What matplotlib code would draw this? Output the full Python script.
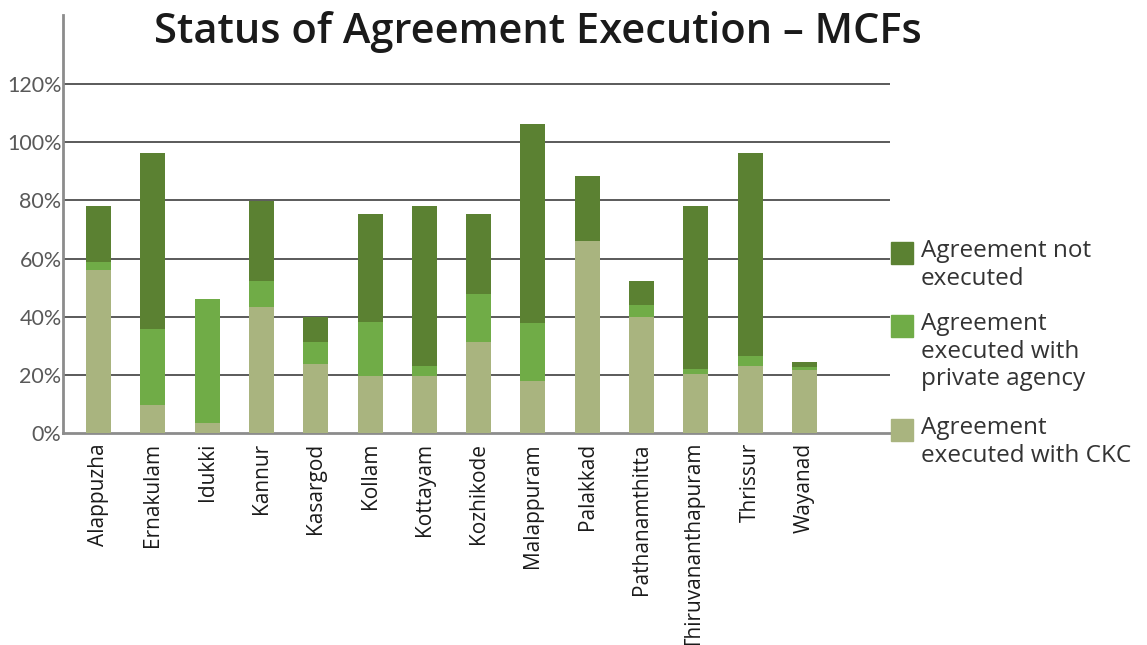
import matplotlib.pyplot as plt
from matplotlib.patches import Rectangle
import numpy as np

districts = ["Alappuzha", "Ernakulam", "Idukki", "Kannur", "Kasargod", "Kollam",
             "Kottayam", "Kozhikode", "Malappuram", "Palakkad", "Pathanamthitta",
             "Thiruvananthapuram", "Thrissur", "Wayanad"]
# shares in %
ckc = [56.1, 9.7, 3.5, 43.4, 23.8, 19.7, 19.7, 31.4, 18.0, 66.1, 40.0, 20.4, 23.1, 21.8]
private = [2.8, 26.2, 42.7, 8.9, 7.6, 18.6, 3.4, 16.5, 19.9, 0.0, 4.1, 1.7, 3.5, 1.0]
not_exec = [19.2, 60.4, 0.0, 27.5, 8.6, 37.1, 55.0, 27.5, 68.4, 22.3, 8.2, 56.0, 69.7, 1.7]
yticks = [0, 20, 40, 60, 80, 100, 120]
legend_labels = ["Agreement not\nexecuted",
                 "Agreement\nexecuted with\nprivate agency",
                 "Agreement\nexecuted with CKC"]

c_not = '#5b8132'
c_priv = '#70ac47'
c_ckc = '#a9b47f'
wide = ['Open Sans', 'DejaVu Sans']

fig = plt.figure(figsize=(11.47, 6.45), dpi=100)
ax = fig.add_axes([63/1147, 1 - 433.3/645, (890-63)/1147, (433.3-15)/645])

x = np.arange(len(districts))
ckc_a = np.array(ckc)
priv_a = np.array(private)
w = 0.46
ax.bar(x, ckc_a, w, color=c_ckc, zorder=3)
ax.bar(x, priv_a, w, bottom=ckc_a, color=c_priv, zorder=3)
ax.bar(x, not_exec, w, bottom=ckc_a + priv_a, color=c_not, zorder=3)

ax.set_xlim(-0.654, 14.575)
ax.set_ylim(0, 143.7)
ax.set_yticks(yticks)
ax.set_yticklabels([f"{v}%" for v in yticks], family=['Lato', 'DejaVu Sans'],
                   fontsize=15.5, color='#595959')
ax.set_xticks(x)
ax.set_xticklabels(districts, rotation=90, family=wide,
                   fontsize=15, color='#1a1a1a')
ax.tick_params(axis='y', length=0, pad=1)
ax.tick_params(axis='x', length=0, pad=7)
for v in yticks[1:]:
    ax.axhline(v, color='#4d4d4d', lw=1.3, zorder=1)

for s in ['top', 'right']:
    ax.spines[s].set_visible(False)
ax.spines['left'].set_color('#8c8c8c')
ax.spines['left'].set_linewidth(2)
ax.spines['bottom'].set_color('#8c8c8c')
ax.spines['bottom'].set_linewidth(2)

fig.text(538/1147, 1 - 32/645, "Status of Agreement Execution \u2013 MCFs",
         ha='center', va='center', fontsize=30, fontweight='semibold',
         family=wide, color='#1a1a1a')

# legend drawn by hand so the swatch sits beside the first line
leg_colors = [c_not, c_priv, c_ckc]
leg_tops = [242, 315, 419]
for col, lab, top in zip(leg_colors, legend_labels, leg_tops):
    fig.patches.append(Rectangle((891/1147, 1 - (top+22)/645), 22/1147, 22/645,
                                 transform=fig.transFigure, color=col))
    fig.text(921/1147, 1 - (top-3)/645, lab, ha='left', va='top', fontsize=17.5,
             linespacing=1.2, family=wide, color='#333333')

fig.savefig('out.png', dpi=100)
